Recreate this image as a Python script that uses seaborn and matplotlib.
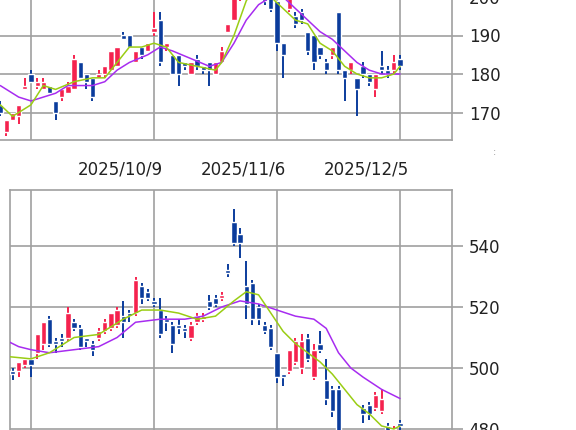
import matplotlib
matplotlib.use("Agg")
import matplotlib.pyplot as plt
import matplotlib.transforms as mtransforms
import numpy as np
import pandas as pd
import seaborn as sns

sns.set_style("white")
plt.rcParams["font.family"] = ["DejaVu Sans"]

RED = "#f5224e"
BLUE = "#0b3c9c"
GREEN = "#9acd14"
PURPLE = "#a72cf0"
GRID = "#a0a0a0"

# ---- top chart (bars 0..65) ----
top_idx = list(range(66))
top_open = [172, 165, 168, 169, 176, 180, 177, 176, 177, 173, 174, 175, 176, 183, 180, 179, 179, 180, 181, 182,
            190, 190, 183, 187, 186, 191, 194, 187, 185, 185, 183, 180, 184, 182, 183, 180, 183, 191, 194, 200,
            204, 206, 207, 201, 200, 199, 188, 197, 195, 196, 191, 190, 187, 183, 185, 196, 181, 181, 179, 182,
            180, 176, 182, 181, 181, 184]
top_close = [170, 168, 170, 172, 177, 178, 178, 178, 175, 170, 176, 177, 184, 179, 178, 174, 180, 182, 186, 187,
             189, 187, 186, 185, 188, 192, 183, 188, 180, 180, 182, 183, 182, 181, 181, 183, 186, 193, 201, 205,
             207, 208, 205, 199, 197, 188, 185, 200, 193, 194, 186, 183, 185, 181, 187, 181, 179, 183, 176, 180,
             178, 180, 181, 180, 183, 182]
top_high = [173, 168, 170, 172, 179, 181, 179, 179, 177, 173, 176, 178, 185, 183, 180, 179, 181, 182, 186, 187,
            191, 190, 186, 187, 188, 196, 196, 188, 185, 185, 183, 183, 185, 182, 183, 183, 187, 193, 201, 206,
            209, 210, 208, 202, 201, 199, 188, 201, 196, 197, 191, 190, 187, 184, 187, 196, 181, 183, 179, 183,
            180, 180, 186, 182, 185, 185]
top_low = [169, 164, 168, 167, 176, 178, 176, 176, 175, 168, 173, 175, 176, 179, 176, 173, 179, 179, 181, 182,
           189, 187, 183, 184, 186, 190, 182, 186, 180, 177, 181, 180, 181, 180, 177, 180, 183, 191, 194, 199,
           203, 205, 204, 198, 196, 186, 179, 196, 192, 193, 185, 181, 184, 180, 184, 180, 173, 180, 169, 179,
           177, 174, 180, 179, 180, 181]
top_ma_short_x = [0, 2, 5, 7, 9, 12, 15, 17, 19, 21, 23, 25, 27, 29, 32, 35, 36, 38, 40, 42, 44, 46, 48, 50, 52,
                  54, 56, 58, 60, 62, 64, 65]
top_ma_short = [172, 169, 172, 177, 176, 178, 179, 179, 183, 187, 187, 188, 187, 183, 182, 181, 183, 190, 199,
                204, 200, 197, 194, 193, 188, 186, 182, 180, 179, 179, 180, 182]
top_ma_long_x = [0, 3, 5, 7, 9, 11, 15, 17, 19, 21, 24, 26, 28, 31, 34, 36, 38, 40, 42, 44, 46, 48, 50, 52, 54,
                 56, 58, 60, 62, 65]
top_ma_long = [177, 174, 173, 174, 175, 177, 177, 178, 181, 183, 185, 187, 186, 184, 182, 183, 188, 194, 198,
               200, 200, 197, 194, 191, 189, 186, 183, 181, 180, 180]

# ---- bottom chart (bars 2..65) ----
bot_idx = list(range(2, 66))
bot_open = [499, 499, 501, 503, 505, 508, 516, 509, 510, 510, 515, 513, 510, 508, 510, 512, 513, 514, 517, 518,
            518, 527, 525, 522, 519, 516, 514, 514, 513, 510, 515, 516, 522, 523, 523, 532, 548, 544, 527, 528,
            520, 514, 513, 505, 498, 499, 502, 500, 510, 497, 508, 496, 493, 493, 478, 476, 474, 487, 488, 487,
            486, 481, 478, 482]
bot_close = [498, 502, 503, 501, 511, 515, 508, 508, 509, 518, 513, 507, 509, 506, 512, 515, 518, 519, 515, 517,
             529, 523, 523, 521, 511, 515, 508, 513, 512, 514, 517, 517, 520, 521, 524, 531, 541, 541, 521, 516,
             516, 512, 507, 497, 497, 506, 509, 509, 503, 506, 506, 490, 486, 475, 474, 475, 476, 485, 485, 491,
             490, 479, 480, 481]
bot_high = [500, 502, 503, 503, 511, 515, 517, 510, 511, 520, 516, 514, 510, 509, 513, 516, 518, 520, 522, 519,
            530, 528, 526, 523, 523, 517, 515, 516, 514, 515, 518, 518, 524, 524, 525, 534, 552, 546, 535, 529,
            521, 515, 514, 505, 498, 506, 510, 511, 511, 508, 512, 503, 494, 494, 479, 477, 478, 488, 489, 492,
            493, 482, 481, 483]
bot_low = [496, 497, 500, 497, 503, 506, 507, 505, 507, 509, 512, 506, 507, 504, 509, 511, 512, 513, 510, 515,
           517, 521, 522, 520, 510, 512, 505, 511, 510, 509, 514, 515, 519, 520, 522, 530, 540, 536, 516, 514,
           514, 511, 506, 495, 494, 498, 501, 498, 502, 496, 505, 488, 484, 472, 471, 472, 473, 482, 483, 486,
           485, 477, 476, 479]
bot_ma_short_x = [0, 5, 8, 12, 16, 20, 23, 26, 29, 32, 35, 38, 40, 42, 44, 46, 48, 50, 52, 54, 56, 58, 60, 62, 64, 65]
bot_ma_short = [504, 503, 505, 510, 511, 516, 519, 519, 518, 516, 517, 522, 525, 524, 518, 512, 508, 505, 502,
                498, 493, 488, 485, 481, 480, 481]
bot_ma_long_x = [0, 3, 5, 8, 12, 16, 19, 22, 26, 30, 33, 36, 39, 42, 45, 48, 51, 53, 55, 57, 59, 62, 65]
bot_ma_long = [510, 507, 506, 505, 506, 507, 510, 515, 516, 516, 517, 520, 522, 521, 519, 517, 516, 513, 505,
               500, 497, 493, 490]

grid_pos = [5, 25, 45, 65]
date_labels = ["", "2025/10/9", "2025/11/6", "2025/12/5"]

W, H = 576, 430
fig = plt.figure(figsize=(5.76, 4.30), dpi=100)


def px_to_i(px):
    return (px - 31) / 6.15 + 5


def make_ax(left_px, right_px, top_px, bot_px, y_of_px):
    ax = fig.add_axes([left_px / W, 1 - bot_px / H, (right_px - left_px) / W, (bot_px - top_px) / H])
    ax.set_xlim(px_to_i(left_px), px_to_i(right_px))
    ax.set_ylim(y_of_px(bot_px), y_of_px(top_px))
    for s in ax.spines.values():
        s.set_color(GRID)
        s.set_linewidth(1.2)
    ax.yaxis.tick_right()
    ax.tick_params(axis="y", length=8, width=1.2, color=GRID, labelsize=12, pad=4, labelcolor="#222222")
    ax.set_xticks(grid_pos)
    ax.grid(True, color=GRID, linewidth=1.2)
    ax.set_axisbelow(True)
    return ax


def candles(ax, idx, o, c, h, l, ma1x, ma1, ma2x, ma2):
    df = pd.DataFrame({"i": idx, "o": o, "c": c, "h": h, "l": l})
    col = np.where(df["c"] >= df["o"], RED, BLUE)
    ax.vlines(df["i"], df["l"], df["h"], colors=col, linewidth=1.4, zorder=3)
    lo = np.minimum(df["o"], df["c"])
    ht = np.maximum(np.abs(df["c"] - df["o"]), 0.5)
    ax.bar(df["i"], ht, bottom=lo, width=0.85, color=col, zorder=3)
    sns.lineplot(x=ma2x, y=ma2, ax=ax, color=PURPLE, linewidth=1.1, zorder=4)
    sns.lineplot(x=ma1x, y=ma1, ax=ax, color=GREEN, linewidth=1.1, zorder=4)


ax1 = make_ax(-20, 452, -60, 140, lambda y: 180 + (74 - y) / 3.85)
ax1.set_yticks([170, 180, 190, 200])
candles(ax1, top_idx, top_open, top_close, top_high, top_low,
        top_ma_short_x, top_ma_short, top_ma_long_x, top_ma_long)
ax1.set_xticklabels(date_labels)
ax1.tick_params(axis="x", length=0, labelsize=12, pad=15, labelcolor="#222222")
shift = mtransforms.ScaledTranslation(-34 / 100, 0, fig.dpi_scale_trans)
for lab in ax1.get_xticklabels():
    lab.set_transform(lab.get_transform() + shift)

ax2 = make_ax(10, 452, 190, 500, lambda y: 520 + (307 - y) / 3.05)
ax2.set_yticks([480, 500, 520, 540])
candles(ax2, bot_idx, bot_open, bot_close, bot_high, bot_low,
        bot_ma_short_x, bot_ma_short, bot_ma_long_x, bot_ma_long)
ax2.set_xticklabels([])
ax2.tick_params(axis="x", length=0)

fig.text(493 / W, 1 - 155 / H, ":", color="#999999", fontsize=7)
fig.savefig("out.png", dpi=100)
